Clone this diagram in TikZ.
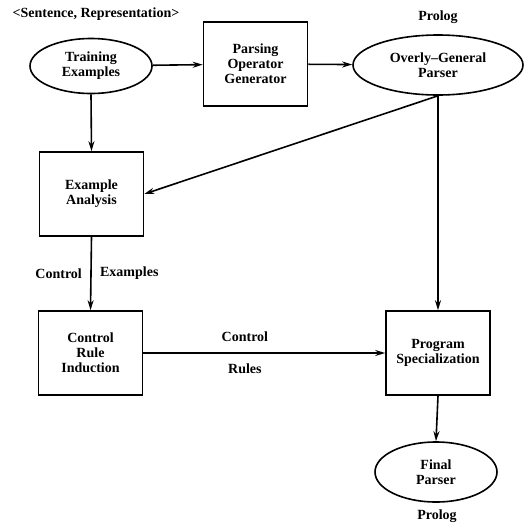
\documentclass[tikz,border=0pt]{standalone}
\usepackage{fontspec}
\setmainfont{Liberation Serif}
\usetikzlibrary{shapes.geometric, arrows.meta, positioning}

\tikzset{
  proc/.style={draw, line width=1.6pt, minimum width=104pt, minimum height=84pt, align=center},
  datum/.style={ellipse, draw, line width=1.6pt, inner sep=0pt, align=center},
  lbl/.style={inner sep=1pt},
  flow/.style={line width=1.6pt, -{Stealth[length=10pt, width=6pt]}}
}

\begin{document}
\begin{tikzpicture}[x=1pt, y=-1pt, font=\fontsize{14}{15}\selectfont\bfseries]
  \useasboundingbox (0,0) rectangle (530,523);

  % inputs and first stage
  \node[datum, minimum width=122pt, minimum height=55pt] (train) at (91,66) {Training\\Examples};
  \node[proc] (pog) at (255.5,64) {Parsing\\Operator\\Generator};
  \node[datum, minimum width=170pt, minimum height=60pt] (ogp) at (438,65) {Overly--General\\Parser};
  \node[lbl] (sentrep) at (96,14) {<Sentence, Representation>};
  \node[lbl] (prologa) at (438,17) {Prolog};

  % learning stages
  \node[proc] (ea) at (91.5,194) {Example\\Analysis};
  \node[proc] (cri) at (90.5,353) {Control\\Rule\\Induction};
  \node[proc] (ps) at (438,353) {Program\\Specialization};

  % output
  \node[datum, minimum width=122pt, minimum height=60pt] (fp) at (436,472) {Final\\Parser};
  \node[lbl] (prologb) at (437,516) {Prolog};

  \draw[flow] (train) -- (pog);
  \draw[flow] (pog) -- (ogp);
  \draw[flow] (train.south) -- (ea.north);
  \draw[flow] (ogp.south) -- (ea.east);
  \draw[flow] (ogp.south) -- (ps.north);
  \draw[flow] (ea.south) -- node[left=5pt] {Control} node[right=5pt] {Examples} (cri.north);
  \draw[flow] (cri.east) -- node[pos=0.42, above=7pt] {Control} node[pos=0.42, below=7pt] {Rules} (ps.west);
  \draw[flow] (ps.south) -- (fp.north);
\end{tikzpicture}
\end{document}
